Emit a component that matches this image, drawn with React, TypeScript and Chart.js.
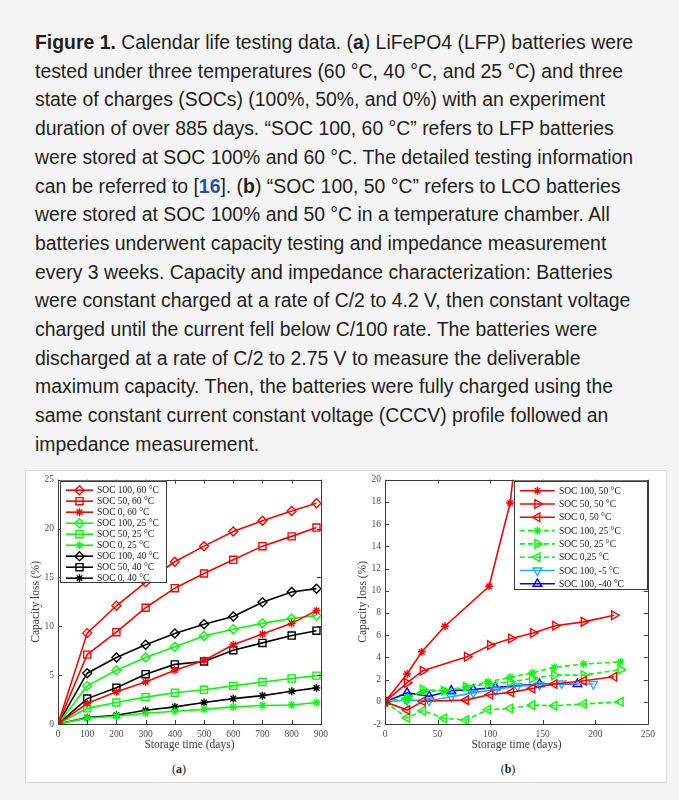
import React, { useEffect, useRef } from "react";
import { Chart, registerables } from "chart.js";
import { drawPoint } from "chart.js/helpers";

Chart.register(...registerables);

// ---------- Panel (a) data: LFP batteries ----------
const daysA = [0, 100, 200, 300, 400, 500, 600, 700, 800, 885];
const a_soc100_60 = [0, 9.3, 12.1, 14.5, 16.6, 18.2, 19.7, 20.8, 21.8, 22.6];
const a_soc50_60 = [0, 7.1, 9.4, 11.9, 13.9, 15.4, 16.8, 18.2, 19.2, 20.1];
const a_soc0_60 = [0, 2.1, 3.3, 4.3, 5.5, 6.5, 8.1, 9.2, 10.3, 11.6];
const a_soc100_25 = [0, 3.9, 5.5, 6.8, 7.9, 9.0, 9.7, 10.3, 10.8, 11.1];
const a_soc50_25 = [0, 1.6, 2.2, 2.75, 3.2, 3.5, 3.9, 4.3, 4.65, 4.95];
const a_soc0_25 = [0, 0.6, 0.8, 1.1, 1.3, 1.5, 1.75, 1.9, 1.95, 2.2];
const a_soc100_40 = [0, 5.2, 6.8, 8.1, 9.25, 10.2, 11.0, 12.45, 13.5, 13.85];
const a_soc50_40 = [0, 2.6, 3.7, 5.1, 6.1, 6.4, 7.55, 8.3, 9.05, 9.55];
const a_soc0_40 = [0, 0.65, 0.9, 1.4, 1.75, 2.2, 2.6, 2.9, 3.35, 3.7];

const xTicksA = [0, 100, 200, 300, 400, 500, 600, 700, 800, 900];
const yTicksA = [0, 5, 10, 15, 20, 25];

// ---------- Panel (b) data: LCO batteries ----------
const b_days100_50 = [0, 21, 35, 57, 99, 119, 140];
const b_soc100_50 = [0, 2.5, 4.5, 6.8, 10.4, 17.9, 35];
const b_days50_50 = [0, 21, 36, 78, 100, 120, 141, 162, 189, 218];
const b_soc50_50 = [0, 1.7, 2.8, 4.05, 5.1, 5.7, 6.2, 6.85, 7.2, 7.8];
const b_days0_50 = [0, 21, 36, 77, 100, 120, 140, 161, 189, 218];
const b_soc0_50 = [0, -0.75, 0.05, 0.15, 0.65, 0.85, 1.2, 1.6, 1.9, 2.25];
const b_days25 = [0, 21, 36, 56, 77, 98, 119, 140, 161, 189, 224];
const b_soc100_25 = [0, 0.4, 0.9, 1.0, 1.3, 1.8, 2.2, 2.6, 3.1, 3.4, 3.6];
const b_soc50_25 = [0, 0.2, 1.1, 1.0, 1.35, 1.6, 1.8, 2.1, 2.4, 2.4, 2.9];
const b_soc0_25 = [0, -1.45, -0.8, -1.5, -1.65, -0.7, -0.6, -0.3, -0.35, -0.2, 0];
const b_daysM5 = [0, 21, 42, 63, 84, 105, 126, 147, 168, 198];
const b_soc100_m5 = [0, 0.15, 0.1, 0.45, 0.8, 1.1, 1.4, 1.55, 1.65, 1.6];
const b_daysM40 = [0, 21, 42, 63, 84, 105, 147, 183];
const b_soc100_m40 = [0, 0.8, 0.5, 1.0, 1.1, 1.3, 1.6, 1.6];

const xTicksB = [0, 50, 100, 150, 200, 250];
const yTicksB = [-2, 0, 2, 4, 6, 8, 10, 12, 14, 16, 18, 20];

const RED = "#ff0000";
const GREEN = "#00ff00";
const BLACK = "#000000";
const CYAN = "#1ab0ff";
const BLUE = "#0000ff";

const SERIF = '"Liberation Serif", "Times New Roman", serif';

const pts = (xs: number[], ys: number[]) => xs.map((x, i) => ({ x, y: ys[i] }));

function ds(label: string, xs: number[], ys: number[], color: string, style: string, radius: number, rotation = 0, dash: number[] = []) {
  return {
    label,
    data: pts(xs, ys),
    borderColor: color,
    backgroundColor: color,
    borderWidth: 1.6,
    borderDash: dash,
    pointStyle: style,
    pointRadius: radius,
    pointRotation: rotation,
    pointBorderColor: color,
    pointBackgroundColor: "rgba(255,255,255,0)",
    pointBorderWidth: 1.4,
    tension: 0,
  };
}

const frameLegendPlugin = {
  id: "frameLegend",
  afterDatasetsDraw(chart: any) {
    const { ctx, chartArea: a } = chart;
    const xs = chart.scales.x;
    const ys = chart.scales.y;
    ctx.save();
    ctx.strokeStyle = "#3a3a3a";
    ctx.lineWidth = 1;
    ctx.setLineDash([]);
    ctx.strokeRect(Math.round(a.left) + 0.5, Math.round(a.top) + 0.5, Math.round(a.right - a.left), Math.round(a.bottom - a.top));
    const tl = 4;
    ctx.beginPath();
    xs.ticks.forEach((t: any) => {
      const px = Math.round(xs.getPixelForValue(t.value)) + 0.5;
      ctx.moveTo(px, a.bottom);
      ctx.lineTo(px, a.bottom - tl);
      ctx.moveTo(px, a.top);
      ctx.lineTo(px, a.top + tl);
    });
    ys.ticks.forEach((t: any) => {
      const py = Math.round(ys.getPixelForValue(t.value)) + 0.5;
      ctx.moveTo(a.left, py);
      ctx.lineTo(a.left + tl, py);
      ctx.moveTo(a.right, py);
      ctx.lineTo(a.right - tl, py);
    });
    ctx.stroke();
    ctx.restore();
  },
  afterDraw(chart: any, _args: any, opts: any) {
    const { ctx, chartArea: a } = chart;
    const n = chart.data.datasets.length;
    const w = opts.width;
    const h = opts.height;
    const left = opts.fromRight ? a.right - opts.dx - w : a.left + opts.dx;
    const top = a.top + opts.dy;
    ctx.save();
    ctx.fillStyle = "#ffffff";
    ctx.fillRect(left, top, w, h);
    ctx.strokeStyle = "#3a3a3a";
    ctx.lineWidth = 1;
    ctx.strokeRect(Math.round(left) + 0.5, Math.round(top) + 0.5, Math.round(w), Math.round(h));
    ctx.font = `${opts.fontSize}px ${SERIF}`;
    ctx.textBaseline = "middle";
    ctx.textAlign = "left";
    for (let i = 0; i < n; i++) {
      const d: any = chart.data.datasets[i];
      const y = top + opts.firstY + i * opts.rowH;
      const x0 = left + opts.lineX;
      const x1 = x0 + opts.lineLen;
      ctx.strokeStyle = d.borderColor;
      ctx.lineWidth = d.borderWidth;
      ctx.setLineDash(d.borderDash || []);
      ctx.beginPath();
      ctx.moveTo(x0, y);
      ctx.lineTo(x1, y);
      ctx.stroke();
      ctx.setLineDash([]);
      ctx.fillStyle = "rgba(255,255,255,0)";
      ctx.lineWidth = d.pointBorderWidth;
      drawPoint(ctx, { pointStyle: d.pointStyle, rotation: d.pointRotation, radius: d.pointRadius, borderWidth: d.pointBorderWidth } as any, (x0 + x1) / 2, y);
      ctx.fillStyle = "#1a1a1a";
      ctx.fillText(d.label, x1 + opts.textGap, y + 0.5);
    }
    ctx.restore();
  },
};

function makeOptions(xMin: number, xMax: number, xStep: number, yMin: number, yMax: number, yStep: number, yWidth: number, legend: any) {
  return {
    animation: false,
    responsive: false,
    maintainAspectRatio: false,
    layout: { padding: { top: 8, right: 8, left: 0, bottom: 0 } },
    plugins: {
      legend: { display: false },
      tooltip: { enabled: false },
      frameLegend: legend,
    },
    scales: {
      x: {
        type: "linear",
        min: xMin,
        max: xMax,
        grid: { display: false, drawTicks: false, tickLength: 0 },
        border: { display: false },
        ticks: { stepSize: xStep, color: "#4a4a4a", padding: 5, font: { family: SERIF, size: 9.5 }, maxRotation: 0 },
        title: { display: true, text: "Storage time (days)", color: "#3a3a3a", font: { family: SERIF, size: 11.5 }, padding: { top: 0, bottom: 3 } },
        afterFit: (s: any) => { s.height = 31; },
      },
      y: {
        type: "linear",
        min: yMin,
        max: yMax,
        grid: { display: false, drawTicks: false, tickLength: 0 },
        border: { display: false },
        ticks: { stepSize: yStep, color: "#4a4a4a", padding: 4, font: { family: SERIF, size: 9.5 } },
        title: { display: true, text: "Capacity loss (%)", color: "#3a3a3a", font: { family: SERIF, size: 11.5 }, padding: { top: 1, bottom: 0 } },
        afterFit: (s: any) => { s.width = yWidth; },
      },
    },
  };
}

function ChartA() {
  const ref = useRef<HTMLCanvasElement>(null);
  useEffect(() => {
    const chart = new Chart(ref.current!, {
      type: "line",
      data: {
        datasets: [
          ds("SOC 100, 60 °C", daysA, a_soc100_60, RED, "rectRot", 4.5),
          ds("SOC 50, 60 °C", daysA, a_soc50_60, RED, "rect", 5),
          ds("SOC 0, 60 °C", daysA, a_soc0_60, RED, "star", 4),
          ds("SOC 100, 25 °C", daysA, a_soc100_25, GREEN, "rectRot", 4.5),
          ds("SOC 50, 25 °C", daysA, a_soc50_25, GREEN, "rect", 5),
          ds("SOC 0, 25 °C", daysA, a_soc0_25, GREEN, "star", 4),
          ds("SOC 100, 40 °C", daysA, a_soc100_40, BLACK, "rectRot", 4.5),
          ds("SOC 50, 40 °C", daysA, a_soc50_40, BLACK, "rect", 5),
          ds("SOC 0, 40 °C", daysA, a_soc0_40, BLACK, "star", 4),
        ] as any,
      },
      options: makeOptions(xTicksA[0], xTicksA[xTicksA.length - 1], 100, yTicksA[0], yTicksA[yTicksA.length - 1], 5, 30, {
        fromRight: false, dx: 2, dy: 1, width: 106, height: 101, firstY: 9.5, rowH: 11, lineX: 6, lineLen: 27, textGap: 4, fontSize: 9.5,
      }) as any,
      plugins: [frameLegendPlugin],
    });
    return () => chart.destroy();
  }, []);
  return <canvas ref={ref} width={305} height={285} style={{ position: "absolute", left: 28, top: 470, width: 305, height: 285 }} />;
}

function ChartB() {
  const ref = useRef<HTMLCanvasElement>(null);
  useEffect(() => {
    const chart = new Chart(ref.current!, {
      type: "line",
      data: {
        datasets: [
          ds("SOC 100, 50 °C", b_days100_50, b_soc100_50, RED, "star", 4),
          ds("SOC 50, 50 °C", b_days50_50, b_soc50_50, RED, "triangle", 5, 90),
          ds("SOC 0, 50 °C", b_days0_50, b_soc0_50, RED, "triangle", 5, 270),
          ds("SOC 100, 25 °C", b_days25, b_soc100_25, GREEN, "star", 4, 0, [5, 3]),
          ds("SOC 50, 25 °C", b_days25, b_soc50_25, GREEN, "triangle", 5, 90, [5, 3]),
          ds("SOC 0,25 °C", b_days25, b_soc0_25, GREEN, "triangle", 5, 270, [5, 3]),
          ds("SOC 100, -5 °C", b_daysM5, b_soc100_m5, CYAN, "triangle", 5, 180),
          ds("SOC 100, -40 °C", b_daysM40, b_soc100_m40, BLUE, "triangle", 5),
        ] as any,
      },
      options: makeOptions(xTicksB[0], xTicksB[xTicksB.length - 1], 50, yTicksB[0], yTicksB[yTicksB.length - 1], 2, 30, {
        fromRight: true, dx: 1, dy: 1, width: 133, height: 108, firstY: 10, rowH: 13.3, lineX: 6, lineLen: 35, textGap: 4, fontSize: 9.5,
      }) as any,
      plugins: [frameLegendPlugin],
    });
    return () => chart.destroy();
  }, []);
  return <canvas ref={ref} width={305} height={285} style={{ position: "absolute", left: 355, top: 470, width: 305, height: 285 }} />;
}

const B = ({ children }: { children: any }) => <b>{children}</b>;

export default function App() {
  const lineStyle: React.CSSProperties = { display: "block", whiteSpace: "nowrap" };
  return (
    <div style={{ position: "absolute", left: 0, top: 0, width: 679, height: 800, background: "#f4f4f4", overflow: "hidden" }}>
      <div style={{ position: "absolute", left: 35, top: 28, fontFamily: '"Liberation Sans", Arial, sans-serif', fontSize: 19.4, lineHeight: "28.7px", color: "#1e1e1e" }}>
        <span style={lineStyle}><B>Figure 1.</B> Calendar life testing data. (<B>a</B>) LiFePO4 (LFP) batteries were</span>
        <span style={lineStyle}>tested under three temperatures (60 °C, 40 °C, and 25 °C) and three</span>
        <span style={lineStyle}>state of charges (SOCs) (100%, 50%, and 0%) with an experiment</span>
        <span style={lineStyle}>duration of over 885 days. “SOC 100, 60 °C” refers to LFP batteries</span>
        <span style={lineStyle}>were stored at SOC 100% and 60 °C. The detailed testing information</span>
        <span style={lineStyle}>can be referred to [<b style={{ color: "#2a4f9c" }}>16</b>]. (<B>b</B>) “SOC 100, 50 °C” refers to LCO batteries</span>
        <span style={lineStyle}>were stored at SOC 100% and 50 °C in a temperature chamber. All</span>
        <span style={lineStyle}>batteries underwent capacity testing and impedance measurement</span>
        <span style={lineStyle}>every 3 weeks. Capacity and impedance characterization: Batteries</span>
        <span style={lineStyle}>were constant charged at a rate of C/2 to 4.2 V, then constant voltage</span>
        <span style={lineStyle}>charged until the current fell below C/100 rate. The batteries were</span>
        <span style={lineStyle}>discharged at a rate of C/2 to 2.75 V to measure the deliverable</span>
        <span style={lineStyle}>maximum capacity. Then, the batteries were fully charged using the</span>
        <span style={lineStyle}>same constant current constant voltage (CCCV) profile followed an</span>
        <span style={lineStyle}>impedance measurement.</span>
      </div>
      <div style={{ position: "absolute", left: 25, top: 470, width: 640, height: 311, background: "#ffffff", border: "1px solid #d8d8d8" }} />
      <ChartA />
      <ChartB />
      <div style={{ position: "absolute", left: 159, top: 762, width: 40, textAlign: "center", fontFamily: SERIF, fontSize: 12, color: "#222" }}>(<b>a</b>)</div>
      <div style={{ position: "absolute", left: 488, top: 762, width: 40, textAlign: "center", fontFamily: SERIF, fontSize: 12, color: "#222" }}>(<b>b</b>)</div>
    </div>
  );
}
